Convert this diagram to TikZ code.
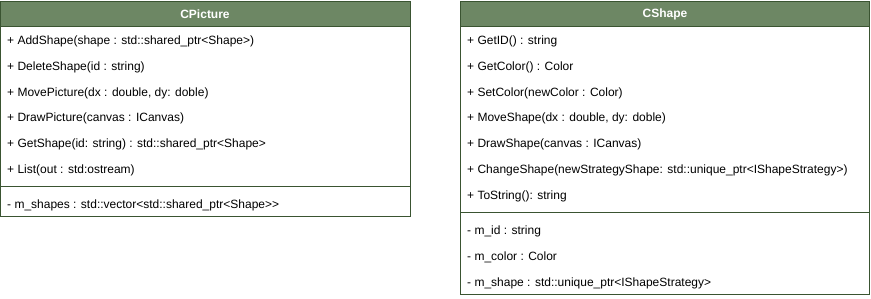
\documentclass[tikz,border=0pt]{standalone}
\usepackage{fontspec}
\setmainfont{Liberation Sans}
\definecolor{hdrfill}{HTML}{6D8764}
\definecolor{hdrline}{HTML}{3A5431}
\begin{document}
\begin{tikzpicture}[x=1pt,y=-1pt,
  hdrbox/.style={draw=hdrline,fill=hdrfill,line width=1pt},
  bodybox/.style={draw=hdrline,fill=white,line width=1pt},
  sepline/.style={draw=hdrline,line width=1pt},
  title/.style={text=white,font=\fontsize{12}{14}\selectfont\bfseries,inner sep=0pt},
  member/.style={anchor=west,font=\fontsize{12}{14}\selectfont,inner sep=0pt,text=black}]
\useasboundingbox (0,0) rectangle (871,298);

% CPicture class
\path[bodybox] (0.5,1) rectangle (410,216);
\path[hdrbox] (0.5,1) rectangle (410,26.5);
\draw[sepline] (0.5,186) -- (410,186);
\node[title] (pt) at (205,14) {CPicture};
\node[member] (p1) at (7,41.5) {+ AddShape(shape : std::shared\_ptr<Shape>)};
\node[member] (p2) at (7,67.5) {+ DeleteShape(id : string)};
\node[member] (p3) at (7,93) {+ MovePicture(dx : double, dy: doble)};
\node[member] (p4) at (7,118.5) {+ DrawPicture(canvas : ICanvas)};
\node[member] (p5) at (7,144.5) {+ GetShape(id: string) : std::shared\_ptr<Shape>};
\node[member] (p6) at (7,170.5) {+ List(out : std:ostream)};
\node[member] (p7) at (7,205.5) {- m\_shapes : std::vector<std::shared\_ptr<Shape>{}>};

% CShape class
\path[bodybox] (460.5,1) rectangle (869.5,294);
\path[hdrbox] (460.5,1) rectangle (869.5,26.5);
\draw[sepline] (460.5,212) -- (869.5,212);
\node[title] (st) at (665,14) {CShape};
\node[member] (s1) at (467,41.5) {+ GetID() : string};
\node[member] (s2) at (467,67.5) {+ GetColor() : Color};
\node[member] (s3) at (467,93) {+ SetColor(newColor : Color)};
\node[member] (s4) at (467,118.5) {+ MoveShape(dx : double, dy: doble)};
\node[member] (s5) at (467,144.5) {+ DrawShape(canvas : ICanvas)};
\node[member] (s6) at (467,170.5) {+ ChangeShape(newStrategyShape: std::unique\_ptr<IShapeStrategy>)};
\node[member] (s7) at (467,196.5) {+ ToString(): string};
\node[member] (s8) at (467,231.5) {- m\_id : string};
\node[member] (s9) at (467,257.5) {- m\_color : Color};
\node[member] (s10) at (467,283.5) {- m\_shape : std::unique\_ptr<IShapeStrategy>};
\end{tikzpicture}
\end{document}
